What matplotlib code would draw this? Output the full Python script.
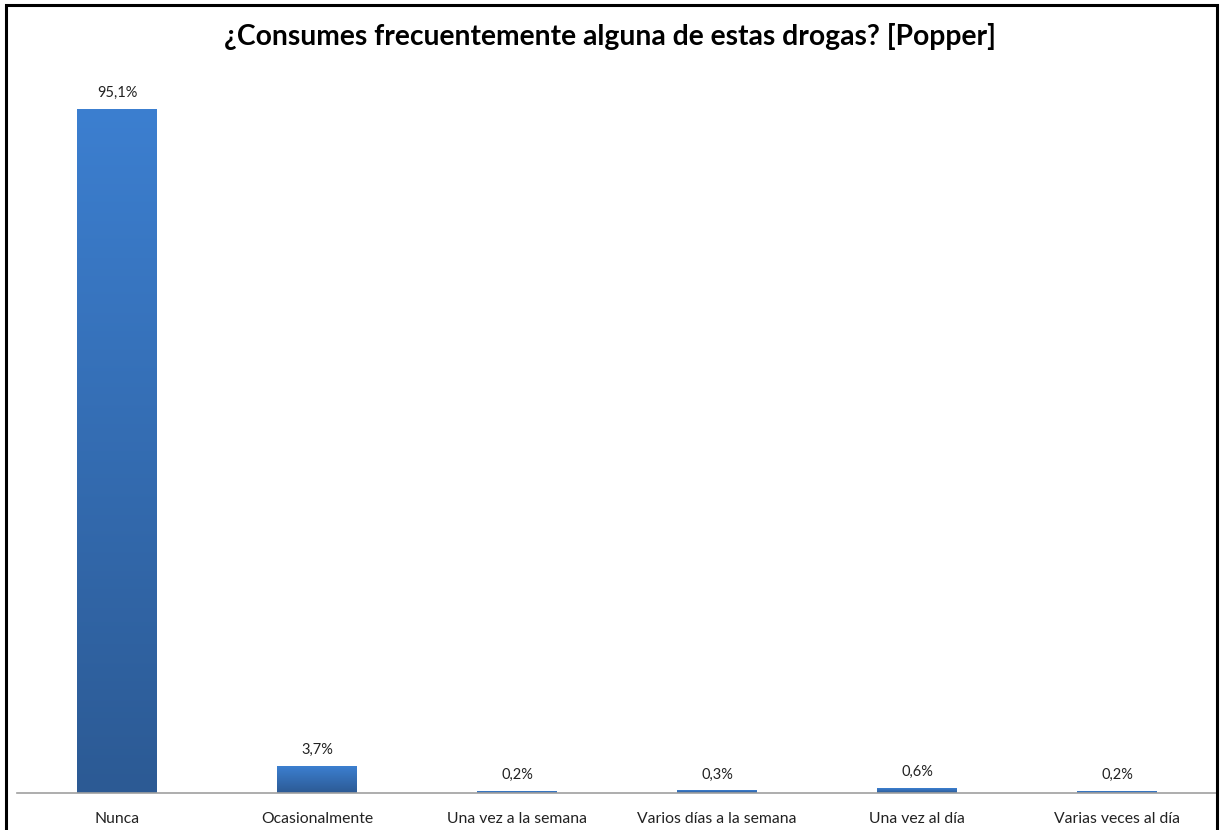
import numpy as np
import matplotlib.pyplot as plt
from matplotlib.patches import Rectangle
from matplotlib.colors import LinearSegmentedColormap

categories = ["Nunca", "Ocasionalmente", "Una vez a la semana",
              "Varios días a la semana", "Una vez al día", "Varias veces al día"]
values = [95.1, 3.7, 0.2, 0.3, 0.6, 0.2]
labels = ["95,1%", "3,7%", "0,2%", "0,3%", "0,6%", "0,2%"]
title = "¿Consumes frecuentemente alguna de estas drogas? [Popper]"

plt.rcParams['font.family'] = ['Lato', 'DejaVu Sans']

fig = plt.figure(figsize=(12.2, 8.3), dpi=100)
ax = fig.add_axes([17 / 1220, 37 / 830, 1200 / 1220, 719 / 830])

# vertical gradient like the original bars (darker at the base)
grad = LinearSegmentedColormap.from_list("bar", ["#2c5a94", "#3c7fd0"])
gimg = np.linspace(0, 1, 256).reshape(-1, 1)
width = 0.4
x = np.arange(len(categories))
for xi, v, lab in zip(x, values, labels):
    ax.imshow(gimg, cmap=grad, origin="lower", aspect="auto",
              extent=[xi - width / 2, xi + width / 2, 0, v], zorder=2)
    ax.text(xi, v + 1.3, lab, ha="center", va="bottom", fontsize=10.5, color="#222222")

ax.set_xlim(-0.5, len(categories) - 0.5)
ax.set_ylim(0, 100)
ax.set_xticks(x)
ax.set_xticklabels(categories, fontsize=11.3, color="#222222")
ax.tick_params(axis="x", length=0, pad=14)
ax.set_yticks([])
for s in ["top", "left", "right"]:
    ax.spines[s].set_visible(False)
ax.spines["bottom"].set_color("#a0a0a0")
ax.spines["bottom"].set_linewidth(1.2)

fig.text(0.5, 1 - 37 / 830, title, ha="center", va="center",
         fontsize=20.3, fontweight="bold", color="black")

# outer frame
fig.patches.append(Rectangle((6 / 1220, -0.01), 1211 / 1220, 1 - 5 / 830 + 0.01,
                             transform=fig.transFigure, fill=False,
                             edgecolor="black", linewidth=2.2))

fig.savefig("out.png", dpi=100, facecolor="white")
